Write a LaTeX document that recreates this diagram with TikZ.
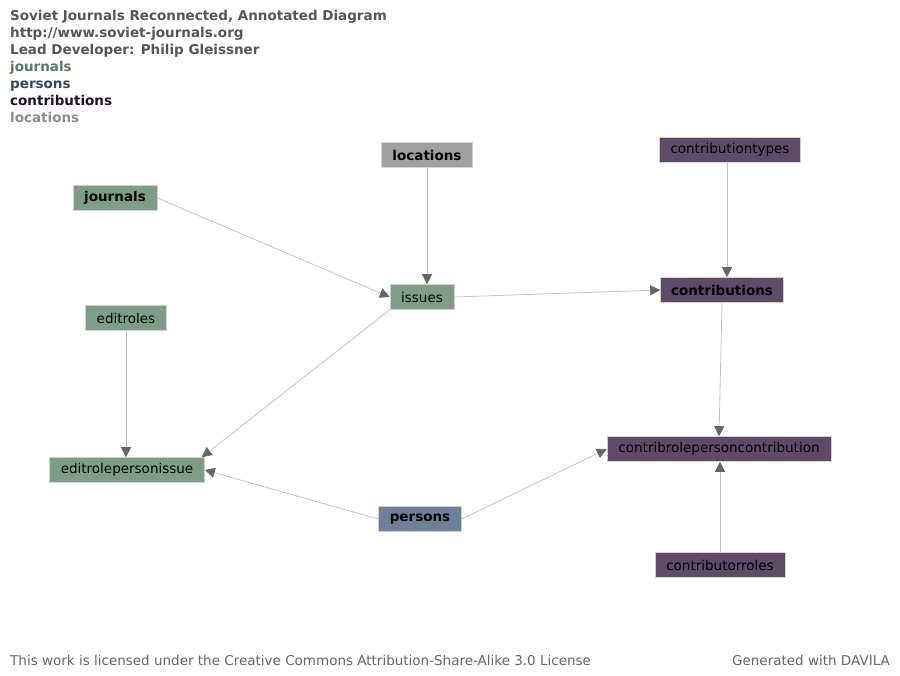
\documentclass[tikz,border=0pt]{standalone}
\usepackage{fontspec}
\setmainfont{DejaVu Sans}
\usetikzlibrary{arrows.meta}
\definecolor{ink}{HTML}{555555}
\definecolor{footink}{HTML}{666666}
\definecolor{jrnl}{HTML}{7C9E89}
\definecolor{jrnltext}{HTML}{4E7E5C}
\definecolor{pers}{HTML}{6E8098}
\definecolor{perstext}{HTML}{2E4868}
\definecolor{contr}{HTML}{5E4B68}
\definecolor{contrtext}{HTML}{1E0F2E}
\definecolor{locs}{HTML}{A0A0A0}
\definecolor{locstext}{HTML}{8C8C8C}
\definecolor{edge}{HTML}{C4C4C4}
\definecolor{tip}{HTML}{666666}

\begin{document}
\begin{tikzpicture}[x=1pt, y=-1pt, font=\fontsize{13.5}{15}\selectfont,
  tbl/.style={draw=white!82!black, line width=0.6pt, minimum height=25pt, inner xsep=2pt, text=black},
  hub/.style={tbl, font=\fontsize{13.5}{15}\selectfont\bfseries},
  head/.style={anchor=base west, inner sep=0pt, font=\fontsize{13.5}{15}\selectfont\bfseries},
  foot/.style={inner sep=0pt, text=footink, font=\fontsize{13.5}{15}\selectfont},
  link/.style={draw=edge, line width=0.8pt, -{Triangle[length=10pt, width=10pt, color=tip]}}]
  \useasboundingbox (0,0) rectangle (900,676);

  % legend
  \node[head, text=ink] (t1) at (10,21) {Soviet Journals Reconnected, Annotated Diagram};
  \node[head, text=ink] (t2) at (10,38) {http://www.soviet-journals.org};
  \node[head, text=ink] (t3) at (10,55) {Lead Developer: Philip Gleissner};
  \node[head, text=jrnltext] (l1) at (10,72) {journals};
  \node[head, text=perstext] (l2) at (10,89) {persons};
  \node[head, text=contrtext] (l3) at (10,106) {contributions};
  \node[head, text=locstext] (l4) at (10,123) {locations};

  % tables
  \node[hub, fill=jrnl, minimum width=84pt] (journals) at (115,198) {journals};
  \node[hub, fill=locs, minimum width=91pt] (locations) at (427,155) {locations};
  \node[tbl, fill=contr, minimum width=141pt] (ctypes) at (730,150) {contributiontypes};
  \node[tbl, fill=jrnl, minimum width=64pt] (issues) at (422,297) {issues};
  \node[hub, fill=contr, minimum width=123pt] (contribs) at (722,290) {contributions};
  \node[tbl, fill=jrnl, minimum width=81pt] (editroles) at (126,318) {editroles};
  \node[tbl, fill=jrnl, minimum width=155pt] (erpi) at (127,470) {editrolepersonissue};
  \node[tbl, fill=contr, minimum width=224pt] (crpc) at (719,449) {contribrolepersoncontribution};
  \node[hub, fill=pers, minimum width=83pt] (persons) at (420,519) {persons};
  \node[tbl, fill=contr, minimum width=130pt] (croles) at (720,565) {contributorroles};

  % links
  \draw[link] (journals.east) -- (issues.west);
  \draw[link] (locations.south) -- (locations.south |- issues.north);
  \draw[link] (issues.east) -- (contribs.west);
  \draw[link] (ctypes.south -| 727,0) -- (contribs.north -| 727,0);
  \draw[link] (contribs.south) -- (crpc.north);
  \draw[link] (croles.north) -- (crpc.south -| croles.north);
  \draw[link] (editroles.south) -- (editroles.south |- erpi.north);
  \draw[link] (issues.south west) -- ([xshift=-3pt]erpi.north east);
  \draw[link] (persons.west) -- (erpi.east);
  \draw[link] (persons.east) -- (crpc.west);

  \node[foot, anchor=base west] (lic) at (10,665) {This work is licensed under the Creative Commons Attribution-Share-Alike 3.0 License};
  \node[foot, anchor=base east] (gen) at (890,665) {Generated with DAVILA};
\end{tikzpicture}
\end{document}
